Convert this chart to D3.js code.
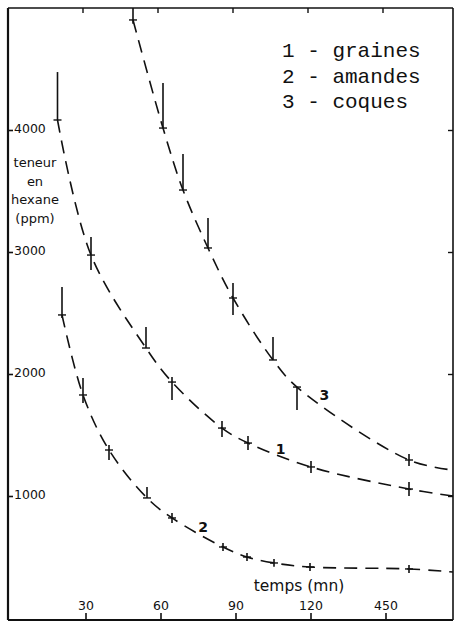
<!DOCTYPE html>
<html><head><meta charset="utf-8">
<script src="https://cdn.jsdelivr.net/npm/d3@7"></script>
<style>
html,body{margin:0;padding:0;background:#fff;}
svg{display:block;}
</style></head>
<body>
<svg id="c" width="456" height="622"></svg>
<script>
// ---- data ----
const xTickValues = [30, 60, 90, 120, 150];
const xTickLabels = ["30", "60", "90", "120", "450"];
const yTickValues = [1000, 2000, 3000, 4000];
const yTickLabels = ["1000", "2000", "3000", "4000"];

const legendLines = ["1 - graines", "2 - amandes", "3 - coques"];
const yTitleLines = ["teneur", "en", "hexane", "(ppm)"];
const xTitle = "temps (mn)";

// series 1 : graines
const s1Time = [18.8, 32.2, 54.2, 64.6, 84.6, 95, 120.2, 159.4];
const s1Val  = [4082, 2975, 2213, 1934, 1557, 1434, 1238, 1057];
const s1Hi   = [4475, 3123, 2385, 1975, 1615, 1492, 1287, 1115];
const s1Lo   = [4082, 2852, 2213, 1787, 1484, 1377, 1189, 1000];
const s1FitEnd = [177, 1000];

// series 2 : amandes
const s2Time = [20.6, 29, 39.4, 54.6, 64.6, 85, 94.6, 105.4, 119.8, 159.4];
const s2Val  = [2484, 1828, 1377, 984, 820, 582, 500, 451, 418, 402];
const s2Hi   = [2713, 1967, 1418, 1074, 861, 615, 533, 484, 451, 435];
const s2Lo   = [2459, 1762, 1295, 984, 779, 549, 467, 420, 385, 369];
const s2FitEnd = [177, 377];

// series 3 : coques
const s3Time = [49, 61, 69, 79, 89, 105, 114.6, 159.4];
const s3Val  = [4902, 4016, 3508, 3033, 2623, 2115, 1893, 1295];
const s3Hi   = [5000, 4385, 3803, 3279, 2746, 2303, 1893, 1344];
const s3Lo   = [4870, 4016, 3508, 3033, 2484, 2115, 1705, 1246];
const s3FitEnd = [177, 1213];

const curveLabels = ["1", "2", "3"];
const curveLabelPos = [[108, 1385], [77, 745], [125.5, 1830]]; // [time, ppm]

// ---- drawing ----
const svg = d3.select("#c");
const x = d3.scaleLinear().domain([-1, 177]).range([8, 453]);
const y = d3.scaleLinear().domain([0, 5000]).range([618, 8]);
const X0 = 8, X1 = 453, Y0 = 8, Y1 = 620;

const ink = "#111";

// frame
const g = svg.append("g");
g.append("line").attr("x1", X0).attr("x2", X0).attr("y1", Y0).attr("y2", Y1).attr("stroke", ink).attr("stroke-width", 2.2);
g.append("line").attr("x1", X0).attr("x2", X1).attr("y1", Y0).attr("y2", Y0).attr("stroke", ink).attr("stroke-width", 1.6);
g.append("line").attr("x1", X1).attr("x2", X1).attr("y1", Y0).attr("y2", Y1).attr("stroke", ink).attr("stroke-width", 1.6);
g.append("line").attr("x1", X0).attr("x2", X1).attr("y1", Y1).attr("y2", Y1).attr("stroke", ink).attr("stroke-width", 2.2);

// bottom axis (ticks inward)
const xb = d3.axisTop(x).tickValues(xTickValues).tickSize(7).tickFormat((d, i) => xTickLabels[i]).tickPadding(3);
const xbG = svg.append("g").attr("transform", `translate(0,${Y1})`).call(xb);
xbG.select(".domain").remove();
xbG.selectAll("line").attr("stroke", ink).attr("stroke-width", 1.6);
xbG.selectAll("text").attr("font-family", "DejaVu Sans").attr("font-size", 12.5).attr("fill", ink);

// top axis ticks (inward)
const xt = d3.axisBottom(x).tickValues(xTickValues).tickSize(5).tickFormat("");
const xtG = svg.append("g").attr("transform", `translate(-3,${Y0})`).call(xt);
xtG.select(".domain").remove();
xtG.selectAll("line").attr("stroke", ink).attr("stroke-width", 1.4);

// left axis (ticks inward, labels inside)
const yl = d3.axisRight(y).tickValues(yTickValues).tickSize(5).tickFormat((d, i) => yTickLabels[i]).tickPadding(1);
const ylG = svg.append("g").attr("transform", `translate(${X0},0)`).call(yl);
ylG.select(".domain").remove();
ylG.selectAll("line").attr("stroke", ink).attr("stroke-width", 1.6);
ylG.selectAll("text").attr("font-family", "DejaVu Sans").attr("font-size", 12.5).attr("fill", ink).attr("dy", "0.2em");

// right axis ticks (inward)
const yr = d3.axisLeft(y).tickValues(yTickValues).tickSize(5).tickFormat("");
const yrG = svg.append("g").attr("transform", `translate(${X1},0)`).call(yr);
yrG.select(".domain").remove();
yrG.selectAll("line").attr("stroke", ink).attr("stroke-width", 1.4);

// y title
svg.append("g").selectAll("text").data(yTitleLines).join("text")
  .attr("x", 35).attr("y", (d, i) => 167 + i * 18.5)
  .attr("text-anchor", "middle")
  .attr("font-family", "DejaVu Sans").attr("font-size", 13).attr("fill", ink)
  .text(d => d);

// x title
svg.append("text").attr("x", 299).attr("y", 591).attr("text-anchor", "middle")
  .attr("font-family", "DejaVu Sans").attr("font-size", 15.5).attr("fill", ink).text(xTitle);

// legend
svg.append("g").selectAll("text").data(legendLines).join("text")
  .attr("x", 282).attr("y", (d, i) => 57 + i * 25.5)
  .attr("font-family", "Liberation Mono").attr("font-size", 21).attr("fill", ink)
  .text(d => d);

// curves
const series = [
  {t: s1Time, v: s1Val, hi: s1Hi, lo: s1Lo, end: s1FitEnd},
  {t: s2Time, v: s2Val, hi: s2Hi, lo: s2Lo, end: s2FitEnd},
  {t: s3Time, v: s3Val, hi: s3Hi, lo: s3Lo, end: s3FitEnd}
];
const line = d3.line().x(d => x(d[0])).y(d => y(d[1])).curve(d3.curveCatmullRom.alpha(0.5));

series.forEach(s => {
  const pts = s.t.map((t, i) => [t, s.v[i]]).concat([s.end]);
  svg.append("path").attr("d", line(pts)).attr("fill", "none")
    .attr("stroke", ink).attr("stroke-width", 1.6).attr("stroke-dasharray", "13,8");
  // error bars
  svg.append("g").selectAll("line").data(s.t).join("line")
    .attr("x1", d => x(d)).attr("x2", d => x(d))
    .attr("y1", (d, i) => y(s.hi[i])).attr("y2", (d, i) => y(s.lo[i]))
    .attr("stroke", ink).attr("stroke-width", 1.6);
  // point marks
  svg.append("g").selectAll("line").data(s.t).join("line")
    .attr("x1", d => x(d) - 4).attr("x2", d => x(d) + 4)
    .attr("y1", (d, i) => y(s.v[i])).attr("y2", (d, i) => y(s.v[i]))
    .attr("stroke", ink).attr("stroke-width", 1.4);
});

// curve labels
svg.append("g").selectAll("text").data(curveLabels).join("text")
  .attr("x", (d, i) => x(curveLabelPos[i][0])).attr("y", (d, i) => y(curveLabelPos[i][1]))
  .attr("text-anchor", "middle").attr("dominant-baseline", "central")
  .attr("font-family", "DejaVu Sans").attr("font-weight", "bold").attr("font-size", 14).attr("fill", ink)
  .text(d => d);
</script>
</body></html>
